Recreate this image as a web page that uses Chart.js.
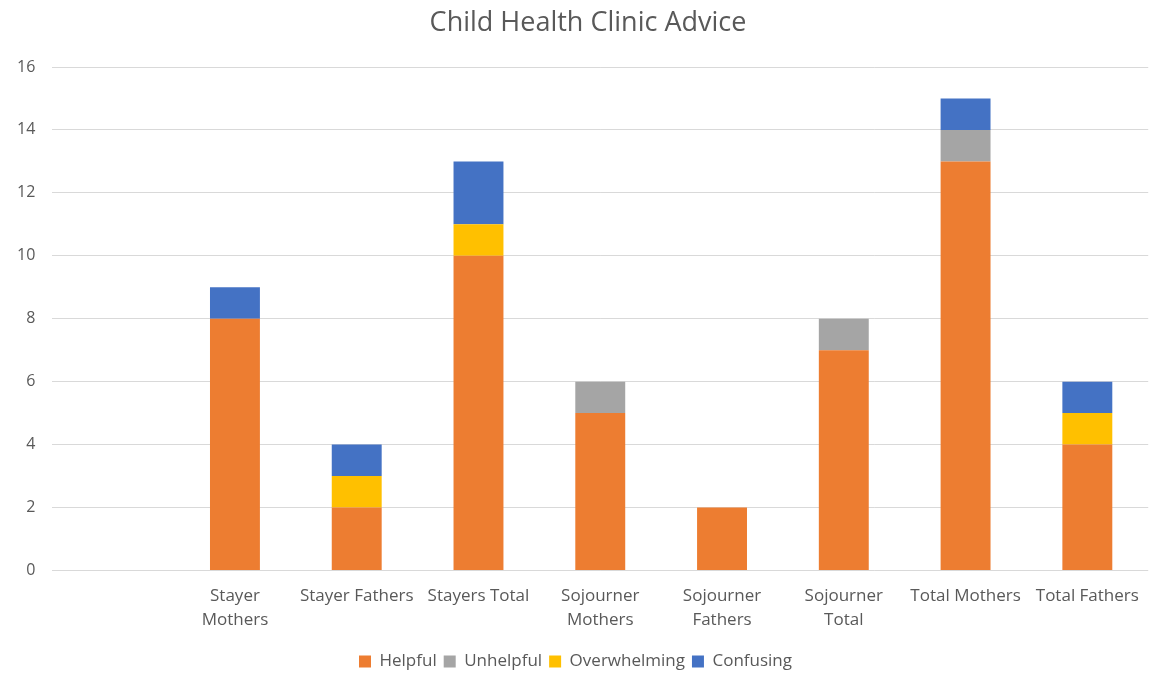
<!DOCTYPE html>
<html><head><meta charset="utf-8">
<script src="https://cdn.jsdelivr.net/npm/chart.js@4/dist/chart.umd.min.js"></script>
<style>html,body{margin:0;padding:0;background:#fff}#wrap{width:1153px;height:680px}</style>
</head><body><div id="wrap"><canvas id="c" width="1153" height="680"></canvas></div>
<script>
const categories = ["", ["Stayer","Mothers"], "Stayer Fathers", "Stayers Total", ["Sojourner","Mothers"], ["Sojourner","Fathers"], ["Sojourner","Total"], "Total Mothers", "Total Fathers"];
const helpful = [null, 8, 2, 10, 5, 2, 7, 13, 4];
const unhelpful = [null, 0, 0, 0, 1, 0, 1, 1, 0];
const overwhelming = [null, 0, 1, 1, 0, 0, 0, 0, 1];
const confusing = [null, 1, 1, 2, 0, 0, 0, 1, 1];
const yTicks = [0, 2, 4, 6, 8, 10, 12, 14, 16];
const chartTitle = 'Child Health Clinic Advice';

const F = "'Open Sans', 'Liberation Sans', sans-serif";
const titlePlugin = {
  id: 'offsetTitle',
  afterDraw(chart) {
    const ctx = chart.ctx;
    ctx.save();
    ctx.font = "27px " + F;
    ctx.fillStyle = '#595959';
    ctx.textAlign = 'center';
    ctx.textBaseline = 'middle';
    ctx.fillText(chartTitle, 588, 23);
    ctx.restore();
  }
};
const ds = (label, data, color) => ({label, data, backgroundColor: color, borderWidth: 0, barPercentage: 0.41, categoryPercentage: 1.0});
new Chart(document.getElementById('c'), {
  type: 'bar',
  data: { labels: categories, datasets: [
    ds('Helpful', helpful, '#ED7D31'),
    ds('Unhelpful', unhelpful, '#A5A5A5'),
    ds('Overwhelming', overwhelming, '#FFC000'),
    ds('Confusing', confusing, '#4472C4')
  ]},
  plugins: [titlePlugin],
  options: {
    responsive: false, animation: false,
    layout: { padding: { left: 0, right: 2, top: 67, bottom: 0 } },
    plugins: {
      title: { display: false },
      legend: { position: 'bottom', labels: { color: '#595959', font: { family: F, size: 17 }, boxWidth: 12, boxHeight: 12, padding: 7 } },
      tooltip: { enabled: false }
    },
    scales: {
      x: { stacked: true, grid: { display: false, drawTicks: false }, border: { display: false },
           ticks: { color: '#595959', font: { family: F, size: 17, lineHeight: 1.4 }, maxRotation: 0, autoSkip: false, padding: 14 } },
      y: { stacked: true, min: 0, max: 16, afterBuildTicks: a => { a.ticks = yTicks.map(v => ({value: v})); },
           grid: { color: '#d9d9d9', drawTicks: false }, border: { display: false },
           ticks: { color: '#595959', font: { family: F, size: 16 }, padding: 17 } }
    }
  }
});
</script></body></html>
